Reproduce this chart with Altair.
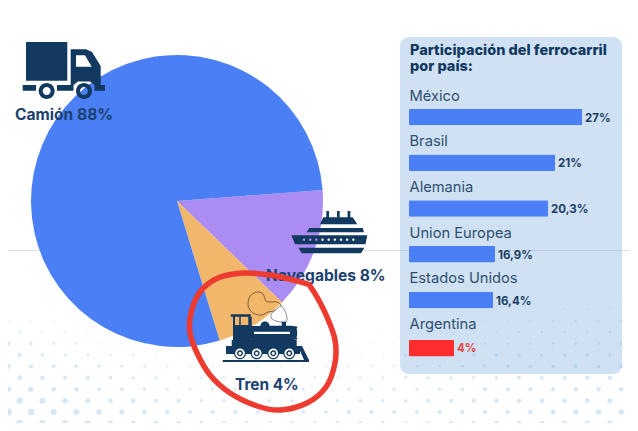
import math
import altair as alt
import numpy as np
import pandas as pd

# ---- data ----
modos = ["Navegables", "Tren", "Camión"]
participacion = [8, 4, 88]
colores_modo = ["#ab8cf3", "#f3b76b", "#4a7ff5"]

paises = ["México", "Brasil", "Alemania", "Union Europea", "Estados Unidos", "Argentina"]
valores = [27, 21, 20.3, 16.9, 16.4, 4]
etiquetas = ["27%", "21%", "20,3%", "16,9%", "16,4%", "4%"]

FONT = "Inter"
NAVY = "#12395f"
W, H = 622, 415


def X(v):
    return v - 8


def Y(v):
    return v - 8


# ---- helpers for the icon paths (picture pixels) ----
def poly(pts):
    return "M" + " L".join(f"{X(a):.2f} {Y(b):.2f}" for a, b in pts) + " Z "


def rect(x0, y0, x1, y1, hole=False):
    pts = [(x0, y0), (x1, y0), (x1, y1), (x0, y1)]
    return poly(pts[::-1] if hole else pts)


def circle(cx, cy, r, hole=False):
    s = 0 if hole else 1
    return (f"M{X(cx - r):.2f} {Y(cy):.2f} A{r} {r} 0 1 {s} {X(cx + r):.2f} {Y(cy):.2f} "
            f"A{r} {r} 0 1 {s} {X(cx - r):.2f} {Y(cy):.2f} Z ")


def smooth(pts, closed=False):
    n = len(pts)
    d = f"M{X(pts[0][0]):.2f} {Y(pts[0][1]):.2f} "
    last = n if closed else n - 1
    for i in range(last):
        if closed:
            p0, p1, p2, p3 = pts[(i - 1) % n], pts[i], pts[(i + 1) % n], pts[(i + 2) % n]
        else:
            p0, p1, p2, p3 = pts[max(i - 1, 0)], pts[i], pts[i + 1], pts[min(i + 2, n - 1)]
        c1 = (p1[0] + (p2[0] - p0[0]) / 6, p1[1] + (p2[1] - p0[1]) / 6)
        c2 = (p2[0] - (p3[0] - p1[0]) / 6, p2[1] - (p3[1] - p1[1]) / 6)
        d += (f"C{X(c1[0]):.2f} {Y(c1[1]):.2f} {X(c2[0]):.2f} {Y(c2[1]):.2f} "
              f"{X(p2[0]):.2f} {Y(p2[1]):.2f} ")
    return d + ("Z" if closed else "")


def shape(path, fill=None, stroke=None, sw=1.0):
    kw = dict(shape=path, size=4, opacity=1)
    if fill:
        kw.update(filled=True, fill=fill)
    else:
        kw.update(filled=False, fill="transparent")
    if stroke:
        kw.update(stroke=stroke, strokeWidth=sw)
    else:
        kw.update(strokeWidth=0)
    return alt.Chart(pd.DataFrame({"a": [0]})).mark_point(**kw).encode(
        x=alt.value(0), y=alt.value(0)
    )


def txt(text, x, y, size, weight, color, align="left"):
    return alt.Chart(pd.DataFrame({"a": [0]})).mark_text(
        text=text, font=FONT, fontSize=size, fontWeight=weight, color=color,
        align=align, baseline="middle",
    ).encode(x=alt.value(X(x)), y=alt.value(Y(y)))


# ---- background halftone ----
filas_y = [423.3, 412, 400.7, 389.3, 377.7, 366.3, 355, 343.7, 332, 321, 309, 298]
cols_x = [0, 100, 200, 300, 400, 500, 638]
diam = [
    [8.5, 6.5, 5, 4.5, 4.5, 5.5, 7],
    [8, 6, 4.5, 4, 4.5, 5, 6.5],
    [7.5, 5.5, 4, 3.5, 4, 5, 6],
    [6.5, 4.5, 3, 3, 3.5, 4.5, 5.5],
    [6, 4, 2.5, 2.5, 3, 4, 5],
    [5.5, 3.5, 2, 2, 2.5, 3.5, 4.5],
    [5, 2.5, 1.5, 1.5, 2, 3.5, 4],
    [4.5, 2, 1, 1, 1.5, 2.5, 3.5],
    [3, 1.5, 0.7, 1, 1.2, 2, 3],
    [2, 1, 0, 0.8, 1, 1.5, 2.5],
    [1, 0, 0, 0, 0.8, 1, 2],
    [0, 0, 0, 0, 0, 0.8, 1.2],
]
dots = []
for k, fy in enumerate(filas_y):
    for fx in np.arange(19.7 if k % 2 == 0 else 8.3, 630, 22.7):
        d = float(np.interp(fx, cols_x, diam[k]))
        if d > 0.3:
            dots.append({"x": X(float(fx)), "y": Y(fy), "s": math.pi * d * d / 4})
dots = pd.DataFrame(dots)

panel = alt.Chart(pd.DataFrame({"a": [0]})).mark_rect(
    color="#cfe1f3", cornerRadius=9
).encode(
    x=alt.value(X(400)), x2=alt.value(X(622)), y=alt.value(Y(37)), y2=alt.value(Y(374))
)

puntos = alt.Chart(dots).mark_circle(color="#7fb3e0", opacity=0.32).encode(
    x=alt.X("x:Q", scale=None, axis=None),
    y=alt.Y("y:Q", scale=None, axis=None),
    size=alt.Size("s:Q", scale=None, legend=None),
)

linea = alt.Chart(pd.DataFrame({"a": [0]})).mark_rule(
    color="#8a9db0", opacity=0.3, strokeWidth=1
).encode(x=alt.value(0), x2=alt.value(W), y=alt.value(Y(250.5)))

# ---- pie ----
inicio = math.radians(85.7)
d1, d2 = math.radians(134), math.radians(163)
pie_df = pd.DataFrame({"modo": modos, "v": participacion, "o": [0, 1, 2]})
pie = alt.Chart(pie_df).mark_arc(outerRadius=146).encode(
    x=alt.value(X(177)),
    y=alt.value(Y(201)),
    theta=alt.Theta(
        "v:Q", stack=True,
        scale=alt.Scale(domain=[0, 8, 12, 100], range=[inicio, d1, d2, inicio + 2 * math.pi]),
    ),
    order=alt.Order("o:Q"),
    color=alt.Color("modo:N", scale=alt.Scale(domain=modos, range=colores_modo), legend=None),
)

# ---- bars ----
x_bar = alt.Scale(
    domain=[0, 4, 16.4, 16.9, 20.3, 21, 27],
    range=[X(409), X(454), X(493), X(495), X(548), X(555), X(582)],
)
BAR_H = 16.5
y_bar = alt.Scale(domain=[0, 4, 5], range=[Y(117), Y(300), Y(348.3)], padding=0)
y_val = alt.Scale(domain=[0, 4, 5], range=[Y(118.5), Y(301.5), Y(349)])
y_nom = alt.Scale(domain=[0, 5], range=[Y(96.7), Y(325)])
bar_df = pd.DataFrame({
    "pais": paises, "valor": valores, "etq": etiquetas, "fila": list(range(len(paises))),
    "ar": [p == "Argentina" for p in paises],
})
barras = alt.Chart(bar_df).mark_bar(height=BAR_H, orient="horizontal", cornerRadius=1).encode(
    x=alt.X("valor:Q", scale=x_bar, axis=None),
    y=alt.Y("fila:Q", scale=y_bar, axis=None),
    color=alt.Color("ar:N", scale=alt.Scale(domain=[False, True], range=["#4a7ff5", "#ff2d2d"]), legend=None),
)
val_txt = alt.Chart(bar_df).mark_text(
    font=FONT, fontSize=11.5, fontWeight=700, align="left", baseline="middle", dx=3
).encode(
    x=alt.X("valor:Q", scale=x_bar, axis=None),
    y=alt.Y("fila:Q", scale=y_val, axis=None),
    text="etq:N",
    color=alt.Color("ar:N", scale=alt.Scale(domain=[False, True], range=["#1d3f66", "#e8423f"]), legend=None),
)
nom_txt = alt.Chart(bar_df).mark_text(
    font=FONT, fontSize=14.7, fontWeight=400, align="left", baseline="middle", color="#2f4f70"
).encode(
    x=alt.value(X(409.5)),
    y=alt.Y("fila:Q", scale=y_nom, axis=None),
    text="pais:N",
)

# ---- truck ----
truck_main = (
    rect(26, 42, 67.3, 80.7)
    + poly([(70.7, 49.3), (86, 49.3), (92, 52), (100.7, 66), (100.7, 85), (94.5, 85), (90, 81.5),
            (78, 81.5), (73.5, 85), (70.7, 85)])
    + poly([(76, 66.7), (91.7, 66.7), (85, 55.3), (76, 55.3)])
    + rect(22.7, 85, 36, 90.7)
    + rect(57, 85, 73.5, 90.7)
    + rect(94.5, 85, 105, 90.7)
    + circle(46.7, 91, 8) + circle(46.7, 91, 4, hole=True)
    + circle(84, 91, 8) + circle(84, 91, 4, hole=True)
)

# ---- ship ----
ship = (
    rect(326.3, 211, 329, 218) + rect(337, 211, 339.7, 218) + rect(347.6, 211, 350.3, 218)
    + poly([(323.3, 217.3), (352.7, 217.3), (357.3, 224.3), (320, 224.3)])
    + poly([(309.3, 228), (362.7, 228), (364, 232.3), (306.7, 232.3)])
    + poly([(291.3, 235.3), (367.3, 235.3), (365.5, 244.3), (295, 244.3)])
    + "".join(circle(304 + 6.17 * i, 239.7, 1.2, hole=True) for i in range(9))
    + poly([(298.3, 247.7), (364.3, 247.7), (361, 253.3), (301.7, 253.3)])
)

# ---- train ----
train = (
    rect(230.7, 314.3, 250.7, 316.8)
    + rect(233, 316.8, 235, 326) + rect(239.3, 316.8, 240.7, 326) + rect(248.3, 316.8, 251.7, 326)
    + rect(233, 325, 251.7, 340)
    + smooth([(251.7, 326), (293, 326), (296.7, 329), (296.7, 337), (293, 340), (251.7, 340)])
    + poly([(254, 331.7), (254, 334), (290, 334), (290, 331.7)])
    + circle(265, 326, 4.6)
    + rect(281.7, 321.7, 286, 326.5)
    + rect(231.7, 340, 296.7, 346)
    + rect(226, 346, 300, 354)
    + poly([(298, 346), (302, 346), (309, 360), (304, 360)])
    + rect(222.7, 360, 309, 362)
)
ruedas_x = [240, 256.7, 273.3, 289.3]
wheels = "".join(circle(c, 353.3, 6) for c in ruedas_x)
wheels_r = "".join(circle(c, 353.3, 4.8) for c in ruedas_x)
wheels_c = "".join(circle(c, 353.3, 3) + circle(c, 353.3, 1.6, hole=True) for c in ruedas_x)

humo1 = smooth([(248, 304), (250, 296), (257, 292), (263, 294), (266, 301), (271, 302), (277, 302),
                (281, 306), (274, 311), (268, 312), (262, 315), (255, 314), (250, 310)], closed=True)
humo2 = smooth([(276, 310), (281, 306), (285, 311), (287, 318), (286, 322), (281, 322), (276, 321),
                (271, 318), (272, 313)], closed=True)

# ---- red ring ----
anillo = smooth([(308, 284), (293, 280), (270, 275), (243, 273), (218, 278), (200, 292), (191, 313),
                 (190, 333), (197, 353), (210, 375), (230, 393), (257, 406), (280, 410), (307, 403),
                 (326, 387), (335, 363), (335, 340), (327, 317), (317, 297), (308, 283)])

chart = alt.layer(
    panel, puntos, linea, pie, barras, val_txt, nom_txt,
    txt("Participación del ferrocarril", 410, 50.5, 14.5, 800, NAVY),
    txt("por país:", 410, 66.5, 14.5, 800, NAVY),
    shape(truck_main, fill=NAVY),
    txt("Camión 88%", 15, 114.5, 15.6, 700, "#1d4270"),
    shape(ship, fill=NAVY),
    txt("Navegables 8%", 266, 275.5, 15.6, 700, "#1d4270"),
    shape(humo1, stroke="#5c4a2c", sw=0.8),
    shape(humo2, fill="#ffffff", stroke="#6b6b6b", sw=0.8),
    shape(train, fill=NAVY),
    shape(wheels, fill=NAVY),
    shape(wheels_r, fill="#ffffff"),
    shape(wheels_c, fill=NAVY),
    txt("Tren 4%", 235, 384.5, 15.4, 700, "#1d4270"),
    shape(anillo, stroke="#ee3b2f", sw=5.5),
).resolve_scale(x="independent", y="independent", color="independent", size="independent", theta="independent").resolve_axis(
    x="independent", y="independent"
).properties(
    width=W, height=H, padding=0, autosize=alt.AutoSizeParams(type="none"), background="#ffffff"
).configure_view(stroke=None)

chart.save("out.html", embed_options={"renderer": "svg", "actions": False})
